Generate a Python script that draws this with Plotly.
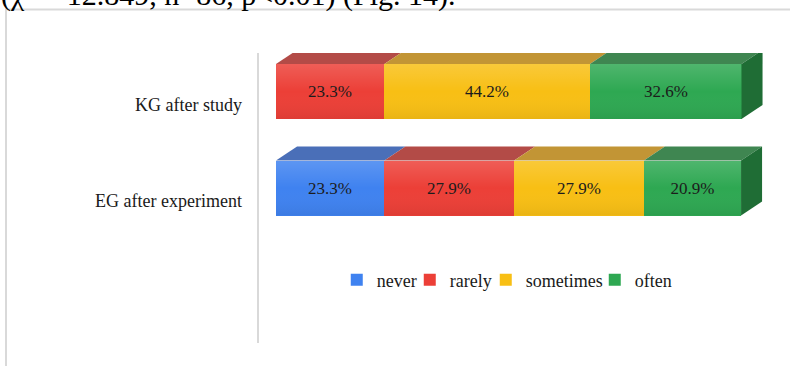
import plotly.graph_objects as go

# ---- data ----
categories = ["KG after study", "EG after experiment"]
cat_pos = [1, 0]  # numeric y positions (top, bottom)
series_names = ["never", "rarely", "sometimes", "often"]
never = [0.0, 23.3]
rarely = [23.3, 27.9]
sometimes = [44.2, 27.9]
often = [32.6, 20.9]
series_values = [never, rarely, sometimes, often]

# ---- style ----
front_colors = ["#3f82f0", "#ec3f37", "#f8bf14", "#2ea852"]
top_colors = ["#4a6fb8", "#b34b47", "#c29535", "#3f8651"]
legend_widths = [28, 31, 64, 42]
side_color = "#1f6d35"
FONT = "Liberation Serif"
BAR_W = 0.57      # bar thickness in y units
DX = 4.52         # 3D depth in x units
DY = 0.145        # 3D depth in y units

fig = go.Figure()

# front faces (bars)
for name, vals, col, lw in zip(series_names, series_values, front_colors, legend_widths):
    fig.add_trace(go.Bar(
        name=name, orientation="h", y=cat_pos, x=vals, width=BAR_W,
        marker=dict(color=col, line=dict(width=0)),
        text=[f"{v:.1f}%" if v > 0 else "" for v in vals],
        textposition="inside", insidetextanchor="middle",
        textfont=dict(family=FONT, size=17, color="#1a1a1a"),
        hoverinfo="skip", legendwidth=lw,
    ))

# shading overlay, top faces and right side face, computed from the data
for ci, yp in enumerate(cat_pos):
    top = yp + BAR_W / 2
    bot = yp - BAR_W / 2
    total = sum(vals[ci] for vals in series_values)
    fig.add_trace(go.Scatter(
        x=[0, total, total, 0, 0], y=[bot, bot, top, top, bot],
        fill="toself", mode="lines", line=dict(width=0),
        fillgradient=dict(type="vertical",
                          colorscale=[[0, "rgba(0,0,0,0.06)"],
                                      [0.5, "rgba(255,255,255,0.0)"],
                                      [1, "rgba(255,255,255,0.16)"]]),
        showlegend=False, hoverinfo="skip",
    ))
    start = 0.0
    last_end = None
    for si, vals in enumerate(series_values):
        v = vals[ci]
        if v <= 0:
            continue
        end = start + v
        fig.add_trace(go.Scatter(
            x=[start, end, end + DX, start + DX, start],
            y=[top, top, top + DY, top + DY, top],
            fill="toself", fillcolor=top_colors[si], mode="lines",
            line=dict(width=0), showlegend=False, hoverinfo="skip",
        ))
        start = end
        last_end = end
    fig.add_trace(go.Scatter(
        x=[last_end, last_end + DX, last_end + DX, last_end, last_end],
        y=[bot, bot + DY, top + DY, top, bot],
        fill="toself", fillcolor=side_color, mode="lines",
        line=dict(width=0), showlegend=False, hoverinfo="skip",
    ))

annotations = []
for cat, yp in zip(categories, cat_pos):
    annotations.append(dict(
        text=cat, x=0, xref="paper", y=yp, yref="y", xanchor="right",
        xshift=-15, yshift=-13, showarrow=False,
        font=dict(family=FONT, size=18, color="#1a1a1a"),
    ))
annotations.append(dict(
    text="(χ<sup>2</sup> = 12.849, n=86, p<0.01) (Fig. 14).",
    x=-0.503, xref="paper", y=1.21, yref="paper", xanchor="left",
    yanchor="middle", showarrow=False,
    font=dict(family=FONT, size=30, color="#000000"),
))

fig.update_layout(
    width=790, height=366,
    margin=dict(l=259, r=15, t=53, b=23),
    paper_bgcolor="white", plot_bgcolor="white",
    barmode="stack", bargap=0,
    showlegend=True,
    legend=dict(orientation="h", x=0.485, xanchor="center", y=0.217,
                yanchor="middle", traceorder="normal",
                font=dict(family=FONT, size=18, color="#1a1a1a"),
                bgcolor="rgba(0,0,0,0)"),
    xaxis=dict(range=[-3.66, 107.3], visible=False, fixedrange=True),
    yaxis=dict(range=[-1.606, 1.399], showgrid=False, zeroline=False,
               showticklabels=False, ticks="", showline=True,
               linecolor="#d9d9d9", linewidth=2, fixedrange=True),
    annotations=annotations,
    shapes=[dict(type="rect", xref="paper", yref="paper",
                 x0=-0.4903, x1=1.1, y0=-0.1, y1=1.15,
                 line=dict(color="#d9d9d9", width=2), layer="below")],
)

fig.write_html("out.html")
